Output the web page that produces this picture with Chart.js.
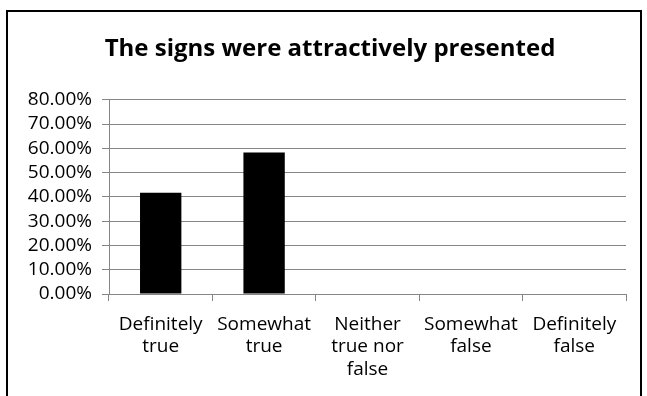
<!DOCTYPE html>
<html>
<head>
<meta charset="utf-8">
<script src="https://cdn.jsdelivr.net/npm/chart.js@4"></script>
<style>
  body { margin: 0; background: #fff; }
  #frame {
    position: absolute; left: 6px; top: 10px;
    width: 632px; height: 400px;
    border: 2px solid #000;
  }
  #wrap { position: absolute; left: 0; top: 0; width: 647px; height: 396px; }
</style>
</head>
<body>
<div id="frame"></div>
<div id="wrap"><canvas id="chart"></canvas></div>
<script>
// data
const categories = [
  ['Definitely', 'true'],
  ['Somewhat', 'true'],
  ['Neither', 'true nor', 'false'],
  ['Somewhat', 'false'],
  ['Definitely', 'false']
];
const percentValues = [41.67, 58.33, 0, 0, 0];
const chartTitle = 'The signs were attractively presented';

const gridGray = '#868686';
const fontFamily = "'Open Sans', 'DejaVu Sans', sans-serif";

// title sits a bit right of the canvas centre in the original
const shiftTitle = {
  id: 'shiftTitle',
  afterLayout(chart) {
    if (chart.titleBlock) chart.titleBlock.left = 34;
  }
};

const ctx = document.getElementById('chart').getContext('2d');
const chart = new Chart(ctx, {
  type: 'bar',
  data: {
    labels: categories,
    datasets: [{
      data: percentValues,
      backgroundColor: '#000',
      borderWidth: 0,
      barPercentage: 0.4,
      categoryPercentage: 1
    }]
  },
  plugins: [shiftTitle],
  options: {
    responsive: true,
    maintainAspectRatio: false,
    animation: false,
    layout: { padding: { left: 0, right: 21, top: 0, bottom: 0 } },
    plugins: {
      legend: { display: false },
      tooltip: { enabled: false },
      title: {
        display: true,
        text: chartTitle,
        color: '#000',
        font: { family: fontFamily, size: 24, weight: 'bold', lineHeight: 1.2 },
        padding: { top: 35, bottom: 36 }
      }
    },
    scales: {
      x: {
        grid: {
          offset: true,
          drawOnChartArea: false,
          drawTicks: true,
          tickLength: 7,
          color: gridGray
        },
        border: { display: true, color: gridGray, width: 1 },
        ticks: {
          color: '#000',
          padding: 13,
          maxRotation: 0,
          autoSkip: false,
          font: { family: fontFamily, size: 19, lineHeight: 1.16 }
        },
        afterFit: function(scale) { scale.height = 102; }
      },
      y: {
        min: 0,
        max: 80,
        grid: {
          color: gridGray,
          drawTicks: true,
          tickLength: 7
        },
        border: { display: true, color: gridGray, width: 1 },
        ticks: {
          stepSize: 10,
          autoSkip: false,
          color: '#000',
          padding: 10,
          font: { family: fontFamily, size: 19 },
          callback: function(v) { return v.toFixed(2) + '%'; }
        },
        afterFit: function(scale) { scale.width = 109; }
      }
    }
  }
});
</script>
</body>
</html>
